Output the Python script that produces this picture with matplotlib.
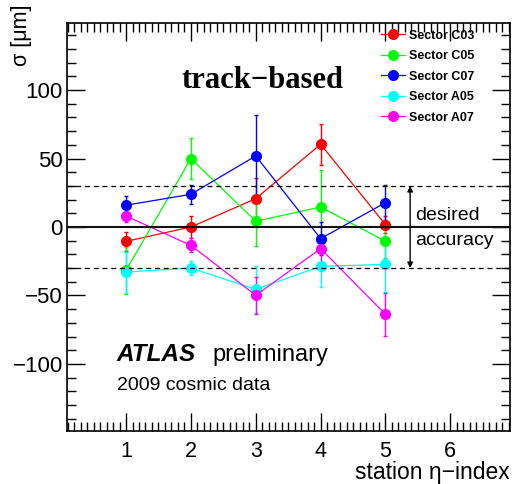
import matplotlib
matplotlib.use('Agg')
import matplotlib.pyplot as plt
from matplotlib.lines import Line2D
from matplotlib.ticker import MultipleLocator

plt.rcParams['font.family'] = ['Liberation Sans', 'DejaVu Sans']

# station eta-index
stations = [1, 2, 3, 4, 5]

# resolution sigma [um] and its error, per sector
sigma_c03 = [-10.5, 0.0, 20.7, 60.4, 1.7]
err_c03 = [7, 8, 15, 15, 6]
sigma_c05 = [-31.7, 50.0, 4.2, 14.6, -10.5]
err_c05 = [17, 15, 18, 27, 12]
sigma_c07 = [15.9, 23.9, 51.9, -8.5, 17.8]
err_c07 = [7, 7, 30, 12, 13]
sigma_a05 = [-32.9, -30.0, -45.5, -28.8, -27.3]
err_a05 = [15, 5, 17, 15, 20]
sigma_a07 = [8.0, -13.4, -49.9, -15.8, -63.8]
err_a07 = [4, 5, 13.6, 10, 15.5]

sectors = ['Sector C03', 'Sector C05', 'Sector C07', 'Sector A05', 'Sector A07']
colors = ['#ff0000', '#00ff00', '#0000ff', '#00ffff', '#ff00ff']
series = [(sigma_c03, err_c03), (sigma_c05, err_c05), (sigma_c07, err_c07),
          (sigma_a05, err_a05), (sigma_a07, err_a07)]

accuracy = 30  # desired accuracy band, +/- um

fig = plt.figure(figsize=(5.17, 4.84), dpi=100)
ax = fig.add_axes([0.1296, 0.1095, 0.8569, 0.843])

for (vals, errs), col in zip(series, colors):
    ax.errorbar(stations, vals, yerr=errs, fmt='o-', color=col, ms=7,
                lw=0.9, elinewidth=1.0, capsize=1.2, capthick=1.0, zorder=3)

ax.axhline(0, color='#111111', lw=1.5, zorder=5)
ax.axhline(accuracy, color='black', lw=0.9, ls=(0, (4, 3)), zorder=5)
ax.axhline(-accuracy, color='black', lw=0.9, ls=(0, (4, 3)), zorder=5)

ax.annotate('', xy=(5.38, accuracy), xytext=(5.38, -accuracy),
            arrowprops=dict(arrowstyle='<|-|>', color='black', lw=1.0,
                            mutation_scale=8, shrinkA=0, shrinkB=0),
            zorder=6)
ax.text(5.46, 8.5, 'desired', fontsize=14, va='center', ha='left')
ax.text(5.46, -9.7, 'accuracy', fontsize=14, va='center', ha='left')

ax.text(3.10, 107, 'track\u2212based', fontsize=22, fontweight='bold',
        family=['Liberation Serif', 'DejaVu Serif'], ha='center', va='center')

ax.text(0.86, -98, 'ATLAS', fontsize=17.5, fontweight='bold', style='italic',
        ha='left', va='baseline')
ax.text(2.33, -98, 'preliminary', fontsize=17, ha='left', va='baseline')
ax.text(0.86, -119, '2009 cosmic data', fontsize=14, ha='left', va='baseline')

handles = [Line2D([0], [0], color=c, marker='o', ms=7, lw=0.9) for c in colors]
ax.legend(handles, sectors, loc='upper left', bbox_to_anchor=(0.69, 1.005),
          frameon=False, prop={'size': 9, 'weight': 'bold'},
          handlelength=1.9, handletextpad=0.3, labelspacing=0.68,
          borderaxespad=0.3)

ax.set_xlim(0.09, 6.92)
ax.set_ylim(-149, 149)
ax.xaxis.set_major_locator(MultipleLocator(1))
ax.xaxis.set_minor_locator(MultipleLocator(0.1))
ax.yaxis.set_major_locator(MultipleLocator(50))
ax.yaxis.set_minor_locator(MultipleLocator(10))
ax.tick_params(which='both', direction='in', top=True, right=True, width=1.0)
ax.tick_params(which='major', length=13)
ax.tick_params(which='minor', length=6.5)
ax.tick_params(axis='x', labelsize=15.5, pad=7)
ax.tick_params(axis='y', labelsize=16, pad=3)
for sp in ax.spines.values():
    sp.set_linewidth(1.2)

fig.text(510 / 517, 1 - 473 / 484, 'station \u03b7\u2212index', fontsize=16.5,
         ha='right', va='center')
fig.text(22 / 517, 1 - 4 / 484, '\u03c3 [\u03bcm]', fontsize=15.5, rotation=90,
         ha='center', va='top')

fig.savefig('out.png', dpi=100, facecolor='white')
